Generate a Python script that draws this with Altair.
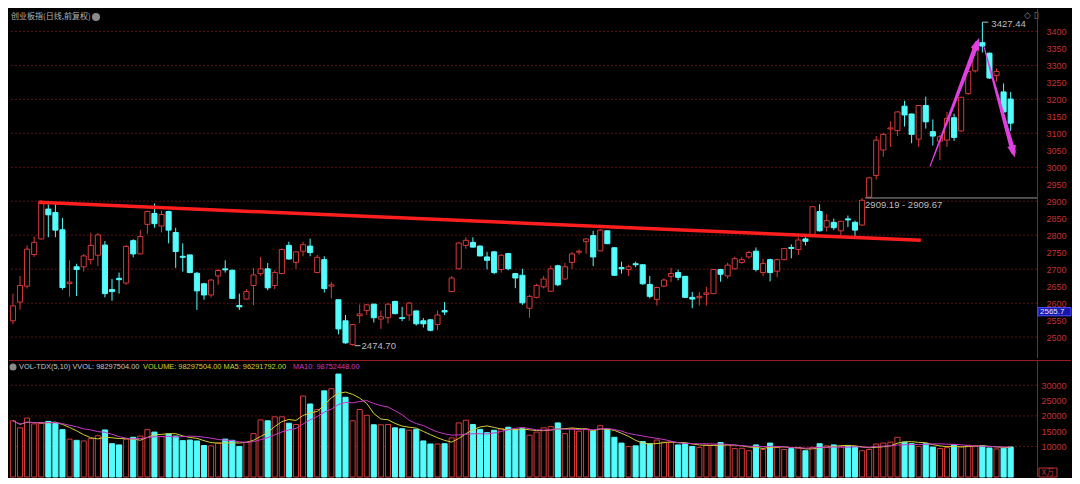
import altair as alt
import pandas as pd

# ---------------- data ----------------
title_text = "创业板指(日线,前复权)"
vol_head_gray = "VOL-TDX(5,10) VVOL: 98297504.00"
vol_head_yellow = "VOLUME: 98297504.00 MA5: 96291792.00"
vol_head_magenta = "MA10: 98752448.00"
vol_unit = "X万"
last_price_label = "2565.7"
corner_icons = "◇ ▯"

opens = [2548, 2603, 2650, 2743, 2789, 2877, 2867, 2816, 2658, 2707,
         2707, 2728, 2741, 2771, 2640, 2673, 2659, 2784, 2745, 2832,
         2864, 2827, 2870, 2808, 2738, 2742, 2688, 2657, 2624, 2680,
         2701, 2697, 2593, 2612, 2652, 2687, 2701, 2652, 2687, 2770,
         2720, 2753, 2768, 2690, 2728, 2650, 2610, 2548, 2478, 2563,
         2578, 2597, 2553, 2557, 2605, 2557, 2565, 2577, 2548, 2551,
         2537, 2578, 2634, 2701, 2770, 2779, 2768, 2736, 2751, 2699,
         2746, 2687, 2682, 2585, 2617, 2648, 2635, 2710, 2671, 2720,
         2750, 2781, 2799, 2754, 2813, 2763, 2705, 2699, 2716, 2713,
         2655, 2611, 2650, 2679, 2690, 2679, 2617, 2616, 2626, 2628,
         2699, 2680, 2701, 2720, 2736, 2753, 2690, 2728, 2694, 2728,
         2764, 2758, 2789, 2799, 2870, 2824, 2838, 2813, 2848, 2838,
         2830, 2912, 2976, 3051, 3113, 3108, 3180, 3157, 3083, 3182,
         3105, 3077, 3080, 3146, 3107, 3217, 3284, 3367, 3336, 3270,
         3222, 3201]
highs = [2628, 2680, 2770, 2796, 2904, 2891, 2891, 2851, 2726, 2716,
         2745, 2807, 2806, 2783, 2671, 2690, 2771, 2788, 2815, 2872,
         2893, 2872, 2872, 2822, 2776, 2742, 2692, 2660, 2671, 2701,
         2726, 2698, 2628, 2641, 2704, 2736, 2718, 2697, 2761, 2781,
         2753, 2781, 2790, 2742, 2738, 2662, 2610, 2565, 2538, 2596,
         2597, 2598, 2578, 2600, 2607, 2589, 2603, 2578, 2556, 2552,
         2578, 2603, 2680, 2779, 2794, 2794, 2770, 2751, 2754, 2745,
         2748, 2688, 2701, 2624, 2657, 2680, 2710, 2713, 2718, 2751,
         2758, 2790, 2813, 2818, 2814, 2765, 2722, 2713, 2722, 2714,
         2680, 2649, 2673, 2704, 2699, 2680, 2633, 2633, 2648, 2700,
         2701, 2719, 2736, 2736, 2754, 2764, 2731, 2731, 2731, 2762,
         2773, 2794, 2794, 2885, 2891, 2862, 2849, 2842, 2858, 2843,
         2909.19, 2972, 3092, 3102, 3135, 3165, 3196, 3158, 3183, 3208,
         3141, 3095, 3163, 3158, 3208, 3286, 3360, 3427.44, 3338, 3291,
         3247, 3222]
lows = [2538, 2581, 2643, 2736, 2787, 2794, 2794, 2640, 2619, 2621,
        2693, 2714, 2709, 2617, 2607, 2628, 2654, 2735, 2745, 2804,
        2822, 2808, 2776, 2704, 2693, 2688, 2580, 2610, 2617, 2654,
        2690, 2612, 2580, 2610, 2594, 2680, 2638, 2641, 2687, 2728,
        2701, 2738, 2738, 2688, 2631, 2614, 2508, 2480, 2474.70, 2541,
        2565, 2543, 2524, 2540, 2567, 2547, 2548, 2534, 2528, 2517,
        2521, 2565, 2632, 2699, 2760, 2764, 2738, 2699, 2685, 2690,
        2697, 2644, 2595, 2557, 2614, 2643, 2634, 2650, 2669, 2701,
        2742, 2745, 2709, 2753, 2774, 2680, 2687, 2680, 2706, 2654,
        2614, 2593, 2647, 2662, 2667, 2616, 2585, 2593, 2593, 2627,
        2663, 2672, 2699, 2716, 2731, 2693, 2679, 2664, 2676, 2726,
        2732, 2742, 2770, 2794, 2811, 2811, 2815, 2799, 2824, 2796,
        2827, 2909.67, 2964, 3031, 3060, 3092, 3120, 3071, 3060, 3114,
        3064, 3021, 3060, 3078, 3105, 3214, 3279, 3338, 3260, 3253,
        3159, 3107]
closes = [2592, 2652, 2759, 2779, 2896, 2860, 2815, 2646, 2662, 2699,
          2739, 2770, 2801, 2628, 2634, 2669, 2767, 2745, 2796, 2870,
          2834, 2861, 2815, 2752, 2735, 2690, 2636, 2624, 2668, 2696,
          2698, 2614, 2589, 2634, 2683, 2701, 2645, 2690, 2758, 2730,
          2751, 2772, 2749, 2735, 2643, 2654, 2524, 2483, 2537, 2568,
          2595, 2557, 2560, 2597, 2569, 2555, 2600, 2539, 2539, 2520,
          2565, 2574, 2674, 2777, 2785, 2765, 2739, 2726, 2690, 2741,
          2701, 2674, 2601, 2620, 2652, 2671, 2701, 2654, 2707, 2745,
          2753, 2789, 2736, 2815, 2775, 2682, 2701, 2707, 2713, 2657,
          2620, 2646, 2668, 2687, 2676, 2617, 2612, 2620, 2630, 2699,
          2685, 2712, 2731, 2728, 2749, 2699, 2717, 2690, 2728, 2761,
          2761, 2786, 2782, 2884, 2813, 2843, 2822, 2841, 2845, 2815,
          2903, 2969, 3080, 3097, 3116, 3163, 3154, 3097, 3182, 3134,
          3092, 3090, 3144, 3088, 3206, 3282, 3357, 3357, 3263, 3282,
          3163, 3130]
volumes = [18400, 16100, 19300, 17400, 17500, 18200, 17500, 15500, 12400, 12000,
           11800, 12600, 13500, 15400, 10900, 10500, 12400, 13000, 13400, 15500,
           14700, 13200, 14100, 13400, 11900, 12100, 11800, 10300, 10200, 11100,
           12400, 12000, 10000, 11400, 14200, 18700, 18400, 19700, 19700, 17600,
           17200, 26500, 23900, 22100, 28200, 28900, 33700, 26100, 18400, 22100,
           20200, 17100, 17100, 17200, 16100, 15800, 15300, 15600, 11800, 10800,
           10800, 10900, 12800, 17700, 18600, 17200, 15600, 14500, 15300, 15800,
           16300, 15600, 15800, 13700, 14700, 16100, 16500, 17700, 14200, 15800,
           15000, 15800, 15100, 16800, 15600, 13000, 11100, 10000, 10200, 11600,
           10900, 12100, 11400, 11400, 10500, 10900, 10000, 9700, 10500, 10500,
           11300, 10500, 9300, 9400, 8600, 10500, 9000, 11100, 9700, 9000,
           9300, 9400, 8600, 9700, 10900, 10200, 10500, 10000, 10200, 10000,
           8600, 9000, 10800, 11100, 11400, 13000, 11400, 10900, 10000, 10900,
           9800, 9300, 9600, 10600, 9900, 10400, 10100, 10200, 9500, 9200,
           9400, 9830]

price_ticks = list(range(2500, 3401, 50))
price_grid = list(range(2500, 3401, 100))
vol_ticks = [10000, 15000, 20000, 25000, 30000]
vol_grid = [10000, 20000, 30000]

trend_idx = [3.6, 128.3]
trend_price = [2897, 2785]

arrow_name = ["up", "up", "down", "down"]
arrow_idx = [129.6, 136.25, 137.2, 141.35]
arrow_price = [3003, 3365, 3357, 3046]
arrow_t = [0, 1, 0, 1]

low_idx, low_price = 48, 2474.70
high_idx, high_price = 137, 3427.44
gap_idx, gap_from, gap_to = 120, 2909.19, 2909.67
last_price = 2565.7

# ---------------- layout / style ----------------
W = 1028
H1 = 349
H2 = 117

RED = "#d63a3a"
CYAN = "#54fcfc"
AXC = "#c43030"
GRID = "#5e1010"
BORDER = "#9a1c1c"
MAG = "#e040e0"
YEL = "#d0d030"
MAGL = "#c838c8"
GRAY = "#bdbdbd"
NUM = "Liberation Sans"
CJK = "Noto Sans CJK SC"
HEAD_FS = 7.4

n = len(opens)
cdf = pd.DataFrame({"i": list(range(n)), "o": opens, "h": highs, "l": lows,
                    "c": closes, "v": volumes})
cdf["dir"] = ["up" if c >= o else "down" for o, c in zip(opens, closes)]

xs = alt.Scale(domain=[-0.556, 144.72], nice=False, zero=False)
ys = alt.Scale(domain=[2438.4, 3466.2], nice=False, zero=False)
vs = alt.Scale(domain=[0, 38300], nice=False, zero=False)
stroke_s = alt.Scale(domain=["up", "down"], range=[RED, CYAN])
fill_s = alt.Scale(domain=["up", "down"], range=["#000000", CYAN])

price_axis = alt.Axis(orient="right", values=price_ticks, format="d", labelColor=AXC,
                      labelFont=NUM, labelFontSize=9, labelAlign="right",
                      labelBaseline="middle", labelPadding=29, ticks=False,
                      domain=False, grid=False, title=None, labelOverlap=False)
vol_axis = alt.Axis(orient="right", values=vol_ticks, format="d", labelColor=AXC,
                    labelFont=NUM, labelFontSize=9, labelAlign="right",
                    labelBaseline="middle", labelPadding=29, ticks=False,
                    domain=False, grid=False, title=None, labelOverlap=False)


def X(f):
    return alt.X(f, scale=xs, axis=None)


def Y(f):
    return alt.Y(f, scale=ys, axis=price_axis)


def V(f):
    return alt.Y(f, scale=vs, axis=vol_axis)


one = pd.DataFrame({"k": [0]})

# ---------------- price panel ----------------
grid_p = alt.Chart(pd.DataFrame({"p": price_grid})).mark_rule(
    color=GRID, strokeDash=[2, 2], strokeWidth=1
).encode(y=Y("p:Q"))

wicks = alt.Chart(cdf).mark_rule(strokeWidth=1).encode(
    x=X("i:Q"), y=Y("l:Q"), y2="h:Q",
    stroke=alt.Stroke("dir:N", scale=stroke_s, legend=None))

bodies = alt.Chart(cdf).transform_calculate(
    xl="datum.i - 0.36", xh="datum.i + 0.36"
).mark_rect(strokeWidth=1).encode(
    x=X("xl:Q"), x2="xh:Q", y=Y("o:Q"), y2="c:Q",
    fill=alt.Fill("dir:N", scale=fill_s, legend=None),
    stroke=alt.Stroke("dir:N", scale=stroke_s, legend=None))

trend = alt.Chart(pd.DataFrame({"i": trend_idx, "p": trend_price})).mark_line(
    color="#ff1e1e", strokeWidth=3.5).encode(x=X("i:Q"), y=Y("p:Q"))

arrows_df = pd.DataFrame({"name": arrow_name, "i": arrow_idx, "p": arrow_price, "t": arrow_t})
arrows = alt.Chart(arrows_df).mark_trail(color=MAG).encode(
    x=X("i:Q"), y=Y("p:Q"), detail="name:N",
    size=alt.Size("t:Q", scale=alt.Scale(domain=[0, 1], range=[1, 5]), legend=None))

head_path = "M0,-1L0.72,1L-0.72,1Z"
head_up = alt.Chart(arrows_df).transform_filter(
    "datum.name == 'up' && datum.t == 1").mark_point(
    shape=head_path, filled=True, size=150, color=MAG, opacity=1, angle=21
).encode(x=X("i:Q"), y=Y("p:Q"))
head_down = alt.Chart(arrows_df).transform_filter(
    "datum.name == 'down' && datum.t == 1").mark_point(
    shape=head_path, filled=True, size=150, color=MAG, opacity=1, angle=165
).encode(x=X("i:Q"), y=Y("p:Q"))

# gap line + label
gap_df = pd.DataFrame({"i": [gap_idx], "p": [gap_to], "q": [gap_from],
                       "t": [f"{gap_from:.2f} - {gap_to:.2f}"]})
gap_line = alt.Chart(gap_df).mark_rule(color="#9a9a9a", strokeWidth=1, xOffset=3).encode(
    x=X("i:Q"), x2=alt.value(W), y=Y("p:Q"))
gap_text = alt.Chart(gap_df).mark_text(
    align="left", baseline="top", dx=3, dy=2, font=NUM, fontSize=9.5, color=GRAY
).encode(x=X("i:Q"), y=Y("q:Q"), text="t:N")

# low / high labels
low_df = pd.DataFrame({"i": [low_idx], "p": [low_price]})
low_mark = alt.Chart(low_df).mark_rule(color=GRAY, xOffset=2, x2Offset=8).encode(
    x=X("i:Q"), x2="i:Q", y=Y("p:Q"))
low_text = alt.Chart(low_df).mark_text(
    align="left", baseline="middle", dx=9, font=NUM, fontSize=9.5, color=GRAY
).encode(x=X("i:Q"), y=Y("p:Q"), text=alt.Text("p:Q", format=".2f"))

high_df = pd.DataFrame({"i": [high_idx], "p": [high_price]})
high_mark = alt.Chart(high_df).mark_rule(color=GRAY, xOffset=0, x2Offset=6).encode(
    x=X("i:Q"), x2="i:Q", y=Y("p:Q"))
high_text = alt.Chart(high_df).mark_text(
    align="left", baseline="middle", dx=9, dy=2, font=NUM, fontSize=9.5, color=GRAY
).encode(x=X("i:Q"), y=Y("p:Q"), text=alt.Text("p:Q", format=".2f"))

# title, icons
title_mark = alt.Chart(pd.DataFrame({"t": [title_text]})).mark_text(
    align="left", baseline="middle", font=CJK, fontSize=8, color="#b4b4b4"
).encode(x=alt.value(2), y=alt.value(8), text="t:N")
title_icon = alt.Chart(one).mark_point(shape="circle", filled=True, size=64,
                                       color="#8a8a8a", opacity=1).encode(
    x=alt.value(87), y=alt.value(8))
corner_mark = alt.Chart(pd.DataFrame({"t": [corner_icons]})).mark_text(
    align="left", baseline="middle", font="DejaVu Sans", fontSize=9, color="#8a8a8a"
).encode(x=alt.value(1015), y=alt.value(6), text="t:N")

# axis separator and last-price box
vline_p = alt.Chart(one).mark_rule(color=BORDER).encode(
    x=alt.value(W + 0.5), y=alt.value(0), y2=alt.value(H1))
lp_df = pd.DataFrame({"t": [last_price_label]})
lp_box = alt.Chart(lp_df).mark_rect(fill="#1616a8", stroke="#5050ff", strokeWidth=1).encode(
    x=alt.value(W + 1), x2=alt.value(W + 34), y=alt.value(298.6), y2=alt.value(306.8))
lp_text = alt.Chart(lp_df).mark_text(
    align="left", baseline="middle", font=NUM, fontSize=8, color="#e8e8ff"
).encode(x=alt.value(W + 3), y=alt.value(302.8), text="t:N")

price_panel = alt.layer(
    grid_p, wicks, bodies, trend, gap_line, gap_text, low_mark, low_text,
    high_mark, high_text, arrows, head_up, head_down, title_mark, title_icon,
    corner_mark, vline_p, lp_box, lp_text
).properties(width=W, height=H1)

# ---------------- volume panel ----------------
grid_v = alt.Chart(pd.DataFrame({"q": vol_grid})).mark_rule(
    color=GRID, strokeDash=[2, 2], strokeWidth=1
).encode(y=V("q:Q"))

vbars = alt.Chart(cdf).transform_calculate(
    xl="datum.i - 0.36", xh="datum.i + 0.36"
).mark_rect(strokeWidth=1).encode(
    x=X("xl:Q"), x2="xh:Q", y=V("v:Q"), y2=alt.datum(0),
    fill=alt.Fill("dir:N", scale=fill_s, legend=None),
    stroke=alt.Stroke("dir:N", scale=stroke_s, legend=None))

ma_base = alt.Chart(cdf).transform_window(
    ma5="mean(v)", frame=[-4, 0], sort=[alt.SortField("i")]
).transform_window(
    ma10="mean(v)", frame=[-9, 0], sort=[alt.SortField("i")])
ma5_line = ma_base.mark_line(color=YEL, strokeWidth=1).encode(x=X("i:Q"), y=V("ma5:Q"))
ma10_line = ma_base.mark_line(color=MAGL, strokeWidth=1).encode(x=X("i:Q"), y=V("ma10:Q"))

top_line = alt.Chart(one).mark_rule(color=BORDER).encode(
    x=alt.value(0), x2=alt.value(W + 34), y=alt.value(0.5))
vline_v = alt.Chart(one).mark_rule(color=BORDER).encode(
    x=alt.value(W + 0.5), y=alt.value(0), y2=alt.value(H2))

vol_icon = alt.Chart(one).mark_point(shape="circle", filled=True, size=50,
                                     color="#8a8a8a", opacity=1).encode(
    x=alt.value(4), y=alt.value(7))
h1 = alt.Chart(pd.DataFrame({"t": [vol_head_gray]})).mark_text(
    align="left", baseline="middle", font=NUM, fontSize=HEAD_FS, color="#c4c4c4"
).encode(x=alt.value(10), y=alt.value(7), text="t:N")
h2 = alt.Chart(pd.DataFrame({"t": [vol_head_yellow]})).mark_text(
    align="left", baseline="middle", font=NUM, fontSize=HEAD_FS, color=YEL
).encode(x=alt.value(134), y=alt.value(7), text="t:N")
h3 = alt.Chart(pd.DataFrame({"t": [vol_head_magenta]})).mark_text(
    align="left", baseline="middle", font=NUM, fontSize=HEAD_FS, color=MAGL
).encode(x=alt.value(284), y=alt.value(7), text="t:N")

unit_df = pd.DataFrame({"t": [vol_unit]})
unit_box = alt.Chart(unit_df).mark_rect(fill="#000000", stroke=AXC, strokeWidth=1).encode(
    x=alt.value(W + 2), x2=alt.value(W + 20), y=alt.value(H2 - 9), y2=alt.value(H2))
unit_text = alt.Chart(unit_df).mark_text(
    align="center", baseline="middle", font=CJK, fontSize=8, color=AXC
).encode(x=alt.value(W + 11), y=alt.value(H2 - 4.5), text="t:N")

vol_panel = alt.layer(
    grid_v, vbars, ma5_line, ma10_line, top_line, vline_v, vol_icon, h1, h2, h3,
    unit_box, unit_text
).properties(width=W, height=H2)

chart = alt.vconcat(price_panel, vol_panel, spacing=0).properties(
    padding=0
).configure(background="#000000").configure_view(strokeWidth=0)

chart.save("out.html", embed_options={"renderer": "svg", "actions": False})
